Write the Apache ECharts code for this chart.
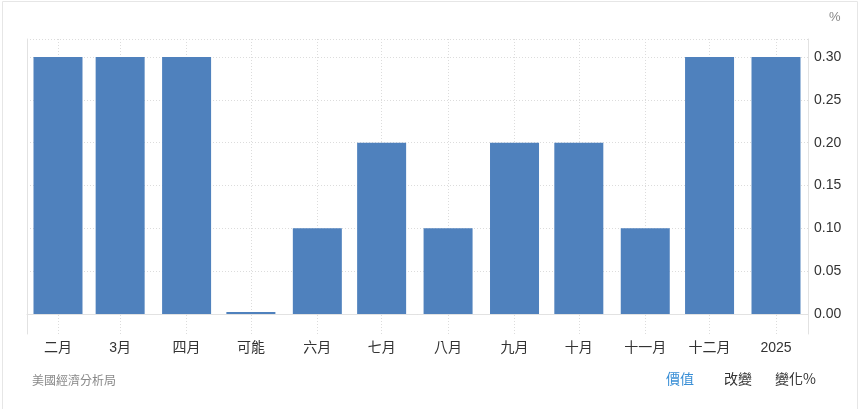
<!DOCTYPE html>
<html>
<head>
<meta charset="utf-8">
<script src="https://cdn.jsdelivr.net/npm/echarts@6/dist/echarts.min.js"></script>
<style>
html,body{margin:0;padding:0;background:#fff;}
#chart{width:861px;height:409px;}
</style>
</head>
<body>
<div id="chart"></div>
<script>
// ---- data ----
const dates = ['2024-02-01','2024-03-01','2024-04-01','2024-05-01','2024-06-01','2024-07-01','2024-08-01','2024-09-01','2024-10-01','2024-11-01','2024-12-01','2025-01-01'];
const tickLabels = ['二月','3月','四月','可能','六月','七月','八月','九月','十月','十一月','十二月','2025'];
const values = [0.3, 0.3, 0.3, 0.0, 0.1, 0.2, 0.1, 0.2, 0.2, 0.1, 0.3, 0.3];
const yTicks = [0, 0.05, 0.10, 0.15, 0.20, 0.25, 0.30];
const unitLabel = '%';
const sourceText = '美國經濟分析局';
const footerTabs = ['價值', '改變', '變化%'];

// day number (UTC) from a date string
function toDay(s) { const p = s.split('-').map(Number); return Date.UTC(p[0], p[1] - 1, p[2]) / 86400000; }
const days = dates.map(toDay);
const xMin = toDay('2024-01-17') + 0.54;
const xMax = toDay('2025-01-15') + 0.93;
const yMin = -0.0233, yMax = 0.321;

const chart = echarts.init(document.getElementById('chart'));
chart.setOption({
  animation: false,
  grid: { left: 27, right: 53, top: 39, bottom: 75, containLabel: false },
  xAxis: {
    type: 'value', min: xMin, max: xMax,
    axisLine: { show: true, lineStyle: { color: '#e2e2e2', width: 1 } },
    axisTick: { show: false, customValues: days },
    splitLine: { show: true, lineStyle: { color: '#dcdcdc', type: [1, 2], width: 1 } },
    axisLabel: {
      customValues: days, margin: 7, color: '#333', fontSize: 14,
      fontFamily: 'Arial, "Liberation Sans", "Noto Sans CJK TC", sans-serif',
      formatter: function (v) { const i = days.indexOf(v); return i >= 0 ? tickLabels[i] : ''; }
    }
  },
  yAxis: [{
    type: 'value', position: 'right', min: yMin, max: yMax,
    axisLine: { show: true, lineStyle: { color: '#e2e2e2' } },
    axisTick: { show: false, customValues: yTicks.concat([yMax]) },
    splitLine: { show: true, lineStyle: { color: '#dcdcdc', type: [1, 2], width: 1 } },
    axisLabel: {
      customValues: yTicks, margin: 6, color: '#333', fontSize: 14,
      fontFamily: 'Arial, "Liberation Sans", sans-serif',
      formatter: function (v) { return v.toFixed(2); }
    }
  }, {
    type: 'value', position: 'left', min: yMin, max: yMax,
    axisLine: { show: true, lineStyle: { color: '#e2e2e2' } },
    axisTick: { show: false }, axisLabel: { show: false }, splitLine: { show: false }
  }],
  series: [{
    type: 'bar', yAxisIndex: 0,
    data: days.map((d, i) => [d, values[i]]),
    barWidth: 49, barMinHeight: 2,
    itemStyle: { color: '#4f81bd' }
  }],
  graphic: [
    { type: 'rect', shape: { x: 2.5, y: 1.5, width: 855, height: 430 }, style: { fill: 'none', stroke: '#e6e6e6', lineWidth: 1 }, silent: true },
    { type: 'text', left: 829, top: 11, style: { text: unitLabel, fill: '#888', fontSize: 13, fontFamily: 'Arial, "Liberation Sans", sans-serif' } },
    { type: 'text', left: 32, top: 374, style: { text: sourceText, fill: '#888', fontSize: 12, fontFamily: '"Noto Sans CJK TC", sans-serif' } },
    { type: 'text', left: 666, top: 372, style: { text: footerTabs[0], fill: '#3a8fd6', fontSize: 14, fontFamily: '"Noto Sans CJK TC", sans-serif' } },
    { type: 'text', left: 724, top: 372, style: { text: footerTabs[1], fill: '#333', fontSize: 14, fontFamily: '"Noto Sans CJK TC", sans-serif' } },
    { type: 'text', left: 775, top: 372, style: { text: footerTabs[2], fill: '#333', fontSize: 14, fontFamily: '"Noto Sans CJK TC", sans-serif' } }
  ]
});
</script>
</body>
</html>
